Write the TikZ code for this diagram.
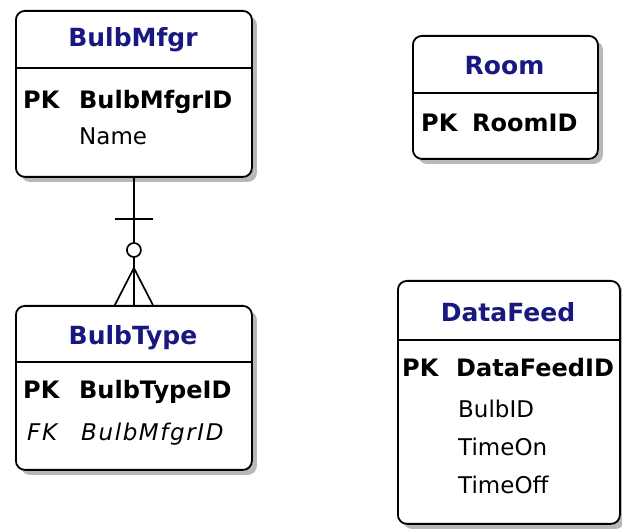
\documentclass[tikz,border=0pt]{standalone}
\usepackage{fontspec}
\setmainfont{DejaVu Sans}
\newfontfamily\fkfont{DejaVu Sans}[LetterSpace=7]
\usetikzlibrary{calc,shadows}
\definecolor{ttlblue}{RGB}{24,24,128}
\begin{document}
\begin{tikzpicture}[x=1pt,y=-1pt,
  ent/.style={draw=black, line width=1.8pt, fill=white, rounded corners=9pt,
    drop shadow={shadow xshift=5pt, shadow yshift=-5pt, fill=black!28, opacity=1},
    anchor=north west, inner sep=0pt},
  ttl/.style={text=ttlblue, font=\fontsize{25}{29}\selectfont\bfseries, anchor=base, inner sep=0pt},
  keyf/.style={font=\fontsize{24}{28}\selectfont\bfseries, anchor=base west, inner sep=0pt},
  attr/.style={font=\fontsize{23}{27}\selectfont, anchor=base west, inner sep=0pt},
  fkf/.style={font=\fontsize{23}{27}\fkfont\itshape, anchor=base west, inner sep=0pt},
  divline/.style={line width=1.5pt},
  conn/.style={line width=1.7pt}]
\useasboundingbox (0,0) rectangle (622,529);

% BulbMfgr
\node[ent, minimum width=236pt, minimum height=166pt] (mfgr) at (15,10) {};
\draw[divline] (15,68) -- (251,68);
\node[ttl] (mfgrT) at (133,47) {BulbMfgr};
\node[keyf] (mfgrPK) at (23,109) {PK};
\node[keyf] (mfgrK) at (79,109) {BulbMfgrID};
\node[attr] (mfgrA1) at (79,145) {Name};

% BulbType
\node[ent, minimum width=236pt, minimum height=164pt] (btype) at (15,305) {};
\draw[divline] (15,362) -- (251,362);
\node[ttl] (btypeT) at (133,345) {BulbType};
\node[keyf] (btypePK) at (23,399) {PK};
\node[keyf] (btypeK) at (79,399) {BulbTypeID};
\node[fkf] (btypeFK) at (27,441) {FK};
\node[fkf] (btypeF) at (81,441) {BulbMfgrID};

% Room
\node[ent, minimum width=185pt, minimum height=123pt] (room) at (412,35) {};
\draw[divline] (412,93) -- (597,93);
\node[ttl] (roomT) at (504.5,75) {Room};
\node[keyf] (roomPK) at (421,132) {PK};
\node[keyf] (roomK) at (472,132) {RoomID};

% DataFeed
\node[ent, minimum width=222pt, minimum height=243pt] (feed) at (397,280) {};
\draw[divline] (397,340) -- (619,340);
\node[ttl] (feedT) at (508,322) {DataFeed};
\node[keyf] (feedPK) at (402,377) {PK};
\node[keyf] (feedK) at (456,377) {DataFeedID};
\node[attr] (feedA1) at (458,418) {BulbID};
\node[attr] (feedA2) at (458,456) {TimeOn};
\node[attr] (feedA3) at (458,494) {TimeOff};

% relationship BulbMfgr -- BulbType
\draw[conn] (mfgr.south) -- (btype.north);
\draw[conn] ($(mfgr.south)+(-19,41)$) -- ($(mfgr.south)+(19,41)$);
\coordinate (footv) at ($(btype.north)+(0,-37)$);
\draw[conn] (footv) -- ($(btype.north)+(-19,0)$);
\draw[conn] (footv) -- ($(btype.north)+(19,0)$);
\draw[conn, fill=white] ($(btype.north)+(0,-55)$) circle (7);
\end{tikzpicture}
\end{document}
